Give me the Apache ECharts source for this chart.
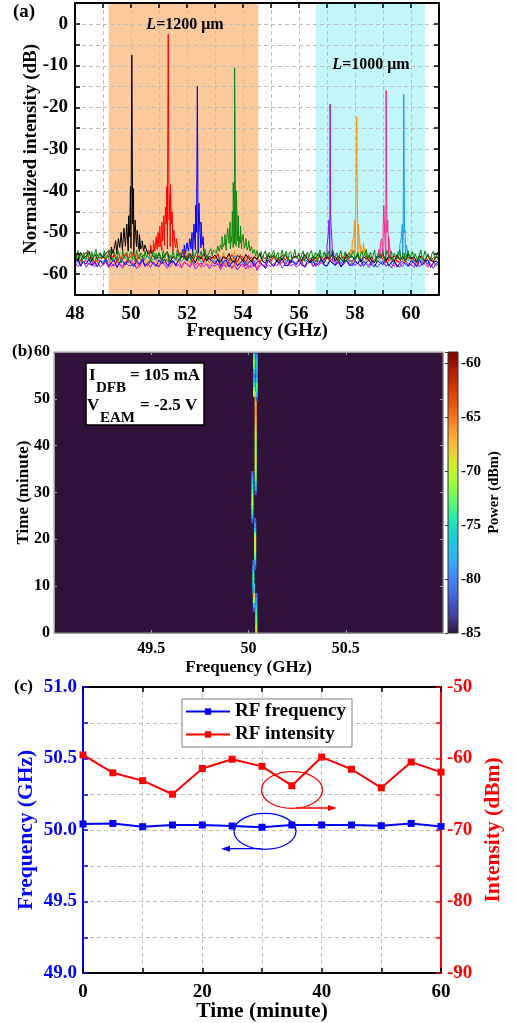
<!DOCTYPE html>
<html><head><meta charset="utf-8">
<script src="https://cdn.jsdelivr.net/npm/echarts@6/dist/echarts.min.js"></script>
<style>html,body{margin:0;padding:0;background:#fff}#c{width:516px;height:1023px}</style>
</head><body><div id="c"></div>
<script>
// ---------- Panel (a): optical spectra (noise floor: green every 0.05 GHz, others every 0.1 GHz, from 48 GHz) ----------
var specStart = 48;
var greenNoise = [
 -55.1,-56.7,-54.3,-56.0,-55.4,-57.2,-54.8,-55.9,-56.5,-54.2,-55.7,-57.0,-54.6,-56.3,-55.2,-54.0,-56.8,-55.5,-54.9,-56.4,
 -55.8,-54.4,-57.1,-55.3,-56.2,-54.1,-55.6,-56.9,-54.7,-55.0,-56.6,-54.5,-55.9,-57.3,-54.3,-56.1,-55.4,-54.8,-56.7,-55.2,
 -54.6,-56.4,-55.1,-57.0,-54.2,-55.8,-56.3,-54.9,-55.5,-56.8,-54.4,-56.0,-55.3,-54.7,-57.1,-55.6,-54.1,-56.5,-55.0,-56.2,
 -54.8,-55.7,-56.9,-54.3,-56.1,-55.2,-54.6,-57.2,-55.4,-56.0,-54.5,-55.9,-56.6,-54.2,-55.3,-56.8,-55.0,-54.4,-56.3,-55.7,
 -56.4,-54.9,-55.5,-57.0,-54.6,-56.2,-55.1,-54.3,-56.7,-55.8,-54.5,-56.0,-55.2,-54.0,-56.5,-55.4,-54.7,-53.9,-55.6,-54.2,
 -53.8,-55.0,-53.2,-54.6,-52.9,-54.1,-53.5,-52.4,-54.3,-53.0,-52.6,-53.9,-52.2,-53.6,-52.8,-53.3,-52.0,-53.7,-52.5,-54.0,
 -52.9,-53.8,-52.6,-54.2,-53.1,-54.5,-53.4,-55.0,-54.1,-55.6,-54.3,-56.0,-55.2,-54.6,-56.3,-55.0,-54.4,-56.1,-55.3,-54.7,
 -56.2,-55.0,-54.3,-56.6,-55.4,-54.8,-57.0,-55.6,-54.2,-56.0,-55.3,-54.5,-56.8,-55.1,-54.6,-56.4,-55.7,-54.1,-56.2,-55.5,
 -54.9,-56.5,-55.2,-54.4,-56.9,-55.6,-54.7,-56.1,-55.0,-54.3,-56.7,-55.4,-54.8,-57.1,-55.5,-54.2,-56.3,-55.8,-54.6,-56.0,
 -55.3,-54.5,-56.6,-55.1,-54.0,-56.2,-55.7,-54.9,-56.8,-55.2,-54.4,-56.4,-55.9,-54.6,-57.0,-55.4,-54.8,-56.1,-55.0,-54.3,
 -56.5,-55.6,-54.7,-56.9,-55.2,-54.5,-56.0,-55.8,-54.1,-56.6,-55.3,-54.8,-56.3,-55.5,-54.2,-57.1,-55.7,-54.9,-56.2,-55.1,
 -54.6,-56.7,-55.4,-54.3,-56.1,-55.9,-54.5,-56.8,-55.0,-54.7,-56.4,-55.2,-54.1,-56.6,-55.6,-54.9,-57.0,-55.3,-54.4,-56.2,
 -55.8,-54.6,-56.3,-55.1,-54.8,-56.9,-55.5,-54.2,-56.5,-55.7,-54.4,-56.0,-55.3,-54.9,-56.7,-55.0,-54.5,-56.4,-55.9,-54.7,
 -55.6];
var blackNoise = [
 -55.3,-56.9,-54.8,-56.2,-55.6,-54.5,-57.0,-55.1,-56.4,-54.9,
 -56.1,-55.0,-54.4,-56.6,-53.9,-55.2,-53.6,-54.8,-53.3,-54.5,
 -53.8,-54.9,-53.4,-54.6,-53.1,-54.7,-55.2,-54.3,-55.8,-56.3,
 -55.0,-56.7,-55.4,-54.6,-57.1,-55.8,-56.3,-54.9,-56.0,-55.5,
 -56.8,-55.2,-56.1,-57.3,-55.6,-56.4,-55.0,-56.9,-55.7,-56.2,
 -55.4,-56.6,-57.0,-55.9,-56.3,-55.1,-56.8,-57.2,-55.5,-56.0,
 -56.7,-55.3,-56.2,-57.1,-55.8,-56.5,-55.0,-56.9,-57.4,-55.6,
 -56.1,-55.4,-57.0,-55.9,-56.6,-55.2,-56.3,-57.2,-55.7,-56.0,
 -55.5,-56.8,-55.3,-56.4,-57.1,-55.8,-56.2,-55.0,-56.7,-57.3,
 -55.9,-56.3,-55.1,-56.9,-55.6,-56.5,-57.0,-55.4,-56.1,-55.7,
 -56.6,-55.2,-57.1,-55.8,-56.3,-55.5,-56.9,-57.2,-55.6,-56.0,
 -55.3,-56.7,-55.9,-56.2,-57.0,-55.4,-56.5,-55.8,-56.9,-55.1,
 -56.4,-55.7,-57.1,-55.5,-56.2,-56.8,-55.3,-56.6,-57.0,-55.9,
 -56.3];
var redNoise = [
 -56.0,-55.2,-56.8,-55.6,-54.7,-56.4,-55.9,-57.1,-55.3,-56.2,
 -55.5,-56.7,-54.9,-56.1,-55.4,-57.0,-55.8,-56.5,-55.1,-56.3,
 -55.7,-54.8,-56.6,-55.3,-56.0,-54.9,-54.2,-55.1,-53.8,-54.6,
 -53.5,-54.3,-53.1,-54.0,-53.4,-54.5,-53.7,-54.8,-55.2,-54.4,
 -56.1,-55.0,-56.9,-55.5,-56.3,-55.8,-57.0,-55.4,-56.6,-55.9,
 -56.4,-55.1,-57.2,-55.7,-56.2,-56.8,-55.3,-56.5,-57.0,-55.6,
 -56.0,-57.1,-55.5,-56.7,-55.9,-56.3,-57.3,-55.8,-56.4,-55.2,
 -56.9,-55.6,-56.1,-57.0,-55.4,-56.6,-55.9,-57.2,-56.0,-55.7,
 -56.5,-57.0,-55.3,-56.2,-56.8,-55.5,-57.1,-56.0,-55.8,-56.6,
 -55.4,-56.9,-56.2,-55.7,-57.3,-55.9,-56.4,-55.1,-56.7,-57.0,
 -56.1,-55.6,-57.1,-56.3,-55.5,-56.8,-55.9,-57.2,-56.0,-55.4,
 -56.7,-57.3,-55.8,-56.2,-55.6,-56.9,-57.1,-55.5,-56.4,-56.0,
 -55.9,-56.6,-57.2,-55.7,-56.3,-57.0,-55.4,-56.8,-56.1,-55.6,
 -56.2];
var blueNoise = [
 -57.3,-56.2,-58.1,-56.9,-57.6,-56.4,-57.9,-57.0,-58.3,-56.7,
 -57.5,-56.3,-58.0,-57.2,-56.6,-58.4,-57.1,-56.8,-57.8,-56.5,
 -57.4,-58.2,-56.7,-57.7,-56.3,-58.0,-57.3,-56.9,-57.6,-58.1,
 -56.6,-57.5,-56.4,-58.0,-57.2,-56.8,-57.9,-56.5,-55.8,-56.4,
 -55.3,-54.8,-55.6,-54.2,-55.0,-53.7,-54.5,-55.4,-56.2,-57.0,
 -57.6,-56.4,-58.1,-57.0,-56.6,-58.3,-57.2,-56.8,-57.9,-57.4,
 -56.7,-58.0,-57.3,-56.5,-58.2,-57.1,-56.9,-57.8,-58.4,-56.6,
 -57.5,-58.1,-56.8,-57.4,-56.3,-57.9,-58.0,-56.7,-57.2,-57.7,
 -56.5,-57.8,-58.2,-56.9,-57.3,-56.6,-58.0,-57.5,-56.4,-57.9,
 -58.1,-56.8,-57.4,-57.9,-56.5,-58.3,-57.0,-56.7,-57.6,-58.0,
 -56.9,-57.5,-56.3,-58.1,-57.2,-56.6,-57.8,-58.2,-56.8,-57.3,
 -57.7,-56.4,-58.0,-57.1,-56.7,-58.3,-57.4,-56.9,-57.6,-58.1,
 -56.8,-57.3,-58.2,-56.5,-57.9,-57.0,-56.6,-58.4,-57.2,-56.9,
 -57.4];
var purpleNoise = [
 -57.1,-58.2,-57.6,-56.9,-58.4,-57.3,-58.0,-57.5,-56.8,-58.3,
 -57.7,-57.0,-58.5,-57.4,-58.1,-56.9,-57.8,-58.6,-57.2,-57.9,
 -58.0,-57.3,-58.7,-57.6,-56.8,-58.2,-57.5,-58.4,-57.0,-57.9,
 -58.3,-57.1,-57.8,-58.6,-57.4,-56.9,-58.1,-57.7,-58.5,-57.2,
 -57.6,-58.4,-57.0,-58.8,-57.9,-57.3,-58.2,-57.5,-58.7,-57.8,
 -58.1,-57.4,-58.9,-57.7,-58.3,-57.0,-58.6,-57.9,-59.0,-58.0,
 -57.5,-58.8,-57.9,-58.4,-57.2,-59.1,-58.0,-57.6,-58.7,-57.8,
 -58.2,-57.4,-58.0,-57.1,-58.5,-57.7,-56.9,-58.1,-57.5,-58.3,
 -57.8,-57.0,-58.4,-57.6,-56.9,-58.2,-57.3,-57.9,-57.1,-56.7,
 -56.4,-56.9,-57.5,-57.9,-57.2,-58.1,-57.6,-56.8,-58.0,-57.4,
 -57.9,-57.3,-58.2,-56.9,-57.7,-58.4,-57.1,-57.8,-58.3,-57.5,
 -57.0,-58.1,-57.6,-58.5,-57.2,-57.9,-58.3,-57.4,-56.9,-58.0,
 -57.7,-58.4,-57.1,-58.2,-57.6,-56.9,-58.0,-57.5,-58.6,-57.3,
 -57.9];
var orangeNoise = [
 -56.9,-55.8,-57.3,-56.2,-55.6,-57.0,-56.5,-55.9,-57.4,-56.1,
 -55.7,-56.8,-57.2,-56.0,-55.5,-56.9,-57.1,-55.8,-56.4,-57.0,
 -56.3,-55.6,-57.3,-56.7,-55.9,-56.2,-57.5,-56.0,-55.7,-56.8,
 -57.0,-56.1,-55.5,-56.9,-57.2,-55.8,-56.4,-57.1,-56.0,-55.6,
 -56.7,-57.3,-55.9,-56.5,-57.0,-55.7,-56.8,-56.2,-57.4,-55.8,
 -56.0,-55.4,-57.8,-54.7,-58.1,-54.9,-57.6,-54.5,-58.3,-55.2,
 -57.2,-55.8,-56.9,-57.3,-56.1,-55.5,-57.0,-56.6,-55.9,-56.8,
 -57.1,-56.0,-55.6,-56.9,-57.4,-55.8,-56.3,-57.0,-56.2,-55.7,
 -56.8,-57.3,-56.1,-55.5,-57.0,-56.4,-55.9,-56.7,-57.2,-56.0,
 -55.6,-56.9,-57.1,-55.8,-56.3,-55.4,-56.6,-55.2,-55.9,-55.5,
 -55.1,-55.9,-56.2,-55.3,-56.7,-57.0,-55.8,-56.4,-57.3,-56.1,
 -55.6,-56.8,-57.2,-55.9,-56.5,-57.1,-55.7,-56.3,-57.4,-56.0,
 -56.9,-55.8,-57.3,-56.2,-55.6,-57.0,-56.4,-55.9,-57.5,-56.6,
 -56.3];
var pinkNoise = [
 -57.4,-56.5,-58.1,-57.0,-56.7,-57.8,-56.9,-58.3,-57.2,-56.6,
 -57.9,-57.1,-56.4,-58.2,-57.5,-56.8,-57.7,-58.0,-56.9,-57.3,
 -56.6,-57.9,-57.2,-58.4,-56.8,-57.5,-58.1,-56.7,-57.3,-57.8,
 -58.0,-56.9,-57.4,-56.5,-58.3,-57.1,-57.7,-56.8,-58.2,-57.0,
 -57.5,-58.1,-56.7,-57.9,-57.2,-58.4,-56.9,-57.6,-58.0,-57.3,
 -56.8,-57.7,-58.5,-57.1,-58.2,-56.9,-58.7,-57.4,-58.0,-57.6,
 -58.3,-57.0,-58.6,-57.5,-56.9,-58.8,-57.3,-58.1,-57.7,-56.8,
 -57.5,-58.2,-56.6,-57.9,-57.1,-56.4,-58.0,-57.4,-56.9,-57.8,
 -56.7,-57.6,-58.3,-57.0,-56.5,-57.9,-58.1,-56.8,-57.3,-57.7,
 -58.0,-56.6,-57.2,-57.8,-56.9,-58.2,-57.4,-56.7,-57.9,-57.1,
 -56.5,-57.5,-58.0,-56.8,-57.3,-57.9,-56.6,-57.1,-56.2,-55.9,
 -56.3,-57.2,-56.8,-57.6,-58.1,-56.9,-57.4,-58.3,-56.7,-57.5,
 -57.9,-56.4,-58.2,-57.1,-56.8,-57.7,-58.4,-56.6,-57.3,-58.0,
 -57.2];
var skyNoise = [
 -56.3,-57.4,-56.9,-55.8,-57.1,-56.5,-55.9,-57.3,-56.2,-56.8,
 -57.0,-56.1,-55.7,-57.2,-56.6,-56.0,-57.5,-56.4,-55.8,-56.9,
 -57.3,-56.2,-56.7,-55.9,-57.1,-56.5,-55.6,-57.0,-56.3,-56.8,
 -55.9,-57.2,-56.4,-56.9,-55.7,-57.4,-56.1,-56.6,-57.0,-56.2,
 -56.8,-55.8,-57.3,-56.5,-56.0,-57.1,-56.7,-55.6,-57.2,-56.4,
 -57.0,-56.3,-55.9,-57.5,-56.6,-56.1,-57.3,-55.7,-56.9,-57.4,
 -56.2,-57.6,-56.8,-55.8,-57.2,-56.4,-55.5,-57.0,-56.7,-56.1,
 -57.3,-55.9,-56.5,-57.1,-56.0,-57.5,-56.3,-55.6,-56.9,-57.2,
 -56.4,-55.7,-57.0,-56.6,-56.1,-57.4,-55.8,-56.8,-57.3,-56.0,
 -55.6,-56.9,-57.2,-56.3,-55.8,-57.5,-56.5,-56.0,-57.1,-56.7,
 -56.1,-55.5,-56.8,-57.3,-56.4,-55.9,-57.0,-56.6,-55.7,-56.9,
 -57.2,-56.3,-55.8,-56.7,-57.4,-56.0,-55.6,-56.5,-55.9,-56.8,
 -56.2,-57.1,-56.6,-55.8,-57.3,-56.4,-57.6,-55.9,-56.7,-58.0,
 -56.5];

// peak structures: [frequency GHz, dB]
var blackPeak = [[49.3,-53.5],[49.35,-55],[49.45,-52],[49.5,-54.5],[49.55,-51.5],[49.6,-54],[49.65,-50],[49.7,-53.5],[49.75,-49],[49.8,-53],[49.85,-48],[49.88,-52],[49.92,-46],[49.95,-51],[49.98,-39],[50.0,-48],[50.03,-7.5],[50.06,-48],[50.09,-39.5],[50.12,-50],[50.15,-47],[50.18,-52],[50.22,-49.5],[50.26,-53],[50.3,-50.5],[50.35,-54],[50.4,-52],[50.45,-54.5],[50.5,-53]];
var redPeak = [[50.7,-53],[50.75,-55],[50.8,-52],[50.85,-54.5],[50.9,-51],[50.93,-54],[50.97,-50],[51.0,-53.5],[51.03,-48.5],[51.06,-53],[51.1,-47.5],[51.13,-52],[51.17,-46],[51.2,-50],[51.23,-44],[51.26,-48],[51.28,-39],[51.3,-47],[51.33,-2.5],[51.36,-47],[51.39,-41],[51.41,-38.5],[51.44,-48],[51.47,-45],[51.5,-51],[51.53,-49.5],[51.57,-53],[51.62,-51.5],[51.67,-54]];
var bluePeak = [[51.85,-54],[51.9,-53],[51.95,-55],[52.0,-52.5],[52.05,-54.5],[52.1,-51.5],[52.14,-54],[52.18,-50],[52.22,-53],[52.25,-48],[52.28,-52],[52.31,-43.5],[52.34,-50],[52.37,-15],[52.4,-49],[52.43,-43],[52.46,-50],[52.5,-47.5],[52.54,-53],[52.58,-51],[52.63,-55]];
var greenPeak = [[53.2,-52.5],[53.25,-51],[53.3,-53.5],[53.35,-50.5],[53.4,-53],[53.45,-49],[53.5,-52],[53.54,-47.5],[53.58,-51],[53.62,-45],[53.65,-38],[53.68,-47],[53.7,-10.5],[53.73,-47],[53.76,-40],[53.79,-48],[53.83,-46],[53.87,-51],[53.91,-48.5],[53.95,-52.5],[54.0,-50.5],[54.05,-53.5],[54.1,-51.5],[54.15,-54],[54.2,-52],[54.3,-53.5]];
var purplePeak = [[56.95,-55],[57.0,-53],[57.04,-51],[57.07,-47],[57.09,-50],[57.11,-19.3],[57.13,-45.5],[57.15,-49],[57.18,-52.5],[57.22,-54.5]];
var orangePeak = [[57.85,-54],[57.9,-52.5],[57.95,-51],[57.99,-47],[58.02,-48.5],[58.06,-22.3],[58.09,-46],[58.12,-48],[58.16,-51.5],[58.2,-53],[58.3,-52.5],[58.4,-54]];
var pinkPeak = [[58.85,-54],[58.9,-53],[58.95,-51.5],[59.0,-50],[59.03,-43.5],[59.06,-50],[59.11,-16],[59.14,-50],[59.17,-47],[59.2,-51],[59.24,-53.5]];
var skyPeak = [[59.55,-54.5],[59.6,-53],[59.65,-51.5],[59.69,-48],[59.72,-51],[59.74,-16.9],[59.77,-50],[59.79,-49.5],[59.83,-53],[59.88,-54.5]];
// shaded device-length bands [start GHz, end GHz]
var band1200 = [49.2, 54.55];
var band1000 = [56.6, 60.5];
// grid line positions of panel (a)
var specGridX = [49,50,51,52,53,54,55,56,57,58,59,60];
var specGridY = [-60,-55,-50,-45,-40,-35,-30,-25,-20,-15,-10,-5,0];

// ---------- Panel (b): spectrogram trace [frequency GHz, time min, power dBm] ----------
var traceFreq = [
 50.040,50.040,50.040,50.040,50.040,50.040,50.040,50.040,50.040,
 50.028,50.028,50.028,50.028,50.028,50.028,
 50.025,50.025,50.025,50.025,50.025,50.025,50.025,
 50.034,50.034,50.034,50.034,50.034,50.034,50.034,50.034,50.034,50.034,50.034,
 50.020,50.020,50.020,50.020,50.020,50.020,50.020,50.020,50.020,50.020,50.020,
 50.037,50.037,50.037,50.037,50.037,50.037,50.037,50.037,50.037,50.037,50.037,50.037,50.037,50.037,50.037,50.037,50.037,50.037,50.037,50.037,50.037,50.037,
 50.042,50.042,50.042,50.042,50.042,50.042,50.042,50.042,50.042,50.042,50.042,
 50.029,50.029,50.029,50.029,50.029,50.029,50.029,50.029,50.029,50.029];
var traceTime = [
 0,1,2,3,4,5,6,7,8,
 5,6,7,8,9,10,
 9,10,11,12,13,14,15,
 14,15,16,17,18,19,20,21,22,23,24,
 24,25,26,27,28,29,30,31,32,33,34,
 30,31,32,33,34,35,36,37,38,39,40,41,42,43,44,45,46,47,48,49,50,51,
 50,51,52,53,54,55,56,57,58,59,60,
 51,52,53,54,55,56,57,58,59,60];
var tracePower = [
 -68,-70,-72,-73,-74,-75,-77,-79,-81,
 -82,-78,-72,-68,-72,-76,
 -80,-77,-75,-74,-76,-79,-82,
 -82,-79,-74,-72,-71,-70,-69,-72,-76,-79,-82,
 -82,-77,-74,-72,-71,-72,-73,-75,-77,-79,-81,
 -82,-78,-75,-73,-72,-71,-71,-70,-70,-71,-72,-71,-70,-69,-68,-67,-67,-66,-66,-67,-68,-70,
 -82,-77,-74,-73,-76,-79,-78,-76,-77,-79,-82,
 -70,-72,-75,-78,-80,-76,-73,-72,-74,-76];
var powerMin = -85, powerMax = -59;
var TURBO = ['#30123b','#4040a0','#4662d8','#4686fb','#2fb0f2','#1ac9dc','#22e5b3','#5efc70','#a4fc3c','#d2e935','#f7c13a','#fe9129','#f05b12','#d63806','#b01a01','#7a0403'];

// ---------- Panel (c): stability over one hour ----------
var timeMin = [0,5,10,15,20,25,30,35,40,45,50,55,60];
var rfFreq = [50.042,50.046,50.023,50.035,50.035,50.028,50.019,50.035,50.035,50.035,50.030,50.046,50.025];
var rfInt = [-59.5,-62.0,-63.1,-65.0,-61.4,-60.1,-61.1,-63.8,-59.8,-61.5,-64.1,-60.5,-61.9];

// ---------- build ----------
var FONT = "'Liberation Serif','Times New Roman',serif";
function buildTrace(noise, step, peaks) {
  var pts = [];
  for (var i = 0; i < noise.length; i++) pts.push([Math.round((specStart + i * step) * 1000) / 1000, noise[i]]);
  pts = pts.concat(peaks);
  pts.sort(function (a, b) { return a[0] - b[0]; });
  return pts;
}
var traces = [
  {c:'#8a12ff', d: buildTrace(purpleNoise, 0.1, purplePeak)},
  {c:'#ff1f8a', d: buildTrace(pinkNoise, 0.1, pinkPeak)},
  {c:'#1a96e6', d: buildTrace(skyNoise, 0.1, skyPeak)},
  {c:'#ff9010', d: buildTrace(orangeNoise, 0.1, orangePeak)},
  {c:'#0000ff', d: buildTrace(blueNoise, 0.1, bluePeak)},
  {c:'#ff0000', d: buildTrace(redNoise, 0.1, redPeak)},
  {c:'#000000', d: buildTrace(blackNoise, 0.1, blackPeak)},
  {c:'#0a870a', d: buildTrace(greenNoise, 0.05, greenPeak)}
];
var heatData = traceFreq.map(function (f, i) { return [f, traceTime[i], tracePower[i]]; });

var chart = echarts.init(document.getElementById('c'), null, {renderer: 'canvas'});
function lbl(size, color, extra) {
  var o = {fontSize: size, fontWeight: 'bold', fontFamily: FONT, color: color || '#000'};
  if (extra) for (var k in extra) o[k] = extra[k];
  return o;
}
var black2 = {show: true, onZero: false, lineStyle: {color: '#000', width: 2}};
var dash = {show: true, lineStyle: {color: '#bdbdbd', type: [4, 3], width: 1}};
var tickIn = {show: true, inside: true, length: 5, lineStyle: {color: '#000', width: 1.5}};
var gridStroke = {stroke: '#bdbdbd', lineWidth: 1, lineDash: [4, 3], fill: null};

var series = [];
// background bands only (no data points), drawn lowest
series.push({type: 'line', xAxisIndex: 0, yAxisIndex: 0, data: [], silent: true, animation: false, z: 1,
  markArea: {silent: true, label: {show: false}, data: [
    [{xAxis: band1200[0], itemStyle: {color: '#fbc99c'}}, {xAxis: band1200[1]}],
    [{xAxis: band1000[0], itemStyle: {color: '#c3f6f9'}}, {xAxis: band1000[1]}]
  ]}});
// dashed grid of panel (a): vertical lines at specGridX, horizontal lines at specGridY
series.push({type: 'custom', xAxisIndex: 0, yAxisIndex: 0, z: 4, silent: true, animation: false, clip: true,
  data: specGridX.map(function (v) { return [v]; }), dimensions: ['x'], encode: {x: 0},
  renderItem: function (params, api) {
    var cs = params.coordSys;
    var x = Math.round(api.coord([api.value(0), -30])[0]) + 0.5;
    return {type: 'line', shape: {x1: x, y1: cs.y, x2: x, y2: cs.y + cs.height}, style: gridStroke};
  }});
series.push({type: 'custom', xAxisIndex: 0, yAxisIndex: 0, z: 4, silent: true, animation: false, clip: true,
  data: specGridY.map(function (v) { return [v]; }), dimensions: ['y'], encode: {y: 0},
  renderItem: function (params, api) {
    var cs = params.coordSys;
    var y = Math.round(api.coord([54, api.value(0)])[1]) + 0.5;
    return {type: 'line', shape: {x1: cs.x, y1: y, x2: cs.x + cs.width, y2: y}, style: gridStroke};
  }});
traces.forEach(function (t) {
  series.push({type: 'line', xAxisIndex: 0, yAxisIndex: 0, data: t.d, showSymbol: false, symbol: 'none',
    lineStyle: {color: t.c, width: 1}, itemStyle: {color: t.c}, silent: true, animation: false, z: 5});
});
var heatIndex = series.length;
series.push({
  type: 'custom', xAxisIndex: 2, yAxisIndex: 2, data: heatData, clip: true, silent: true, animation: false,
  encode: {x: 0, y: 1},
  renderItem: function (params, api) {
    var c = api.coord([api.value(0), api.value(1)]);
    var h = api.size([0, 1])[1];
    return {type: 'rect', shape: {x: c[0] - 1.1, y: c[1] - h / 2 - 0.3, width: 2.2, height: h + 0.6},
      style: {fill: api.visual('color')}};
  }
});
series.push({type: 'line', name: 'RF frequency', xAxisIndex: 5, yAxisIndex: 5,
  data: timeMin.map(function (t, i) { return [t, rfFreq[i]]; }),
  symbol: 'rect', symbolSize: 7, lineStyle: {color: '#0000ff', width: 2}, itemStyle: {color: '#0000ff'}, animation: false, z: 4});
series.push({type: 'line', name: 'RF intensity', xAxisIndex: 5, yAxisIndex: 6,
  data: timeMin.map(function (t, i) { return [t, rfInt[i]]; }),
  symbol: 'rect', symbolSize: 7, lineStyle: {color: '#ff0000', width: 2}, itemStyle: {color: '#ff0000'}, animation: false, z: 4});

var cbStops = TURBO.map(function (c, i) { return {offset: i / (TURBO.length - 1), color: c}; });

var option = {
  animation: false,
  grid: [
    {left: 75, top: 3, width: 364, height: 292},
    {left: 54, top: 352, width: 389, height: 281, show: true, backgroundColor: '#30123b', borderColor: '#9a9a9a', borderWidth: 1},
    {left: 448, top: 352, width: 10, height: 281, show: true, borderColor: '#333', borderWidth: 1,
      backgroundColor: new echarts.graphic.LinearGradient(0, 1, 0, 0, cbStops)},
    {left: 83, top: 687, width: 358, height: 288}
  ],
  xAxis: [
    {gridIndex: 0, type: 'value', min: 48, max: 61, interval: 1, position: 'bottom', z: 6, axisLine: black2, axisTick: tickIn,
      axisLabel: lbl(19, '#000', {margin: 10, formatter: function (v) { return v % 2 === 0 ? String(v) : ''; }}),
      splitLine: {show: false}, name: 'Frequency (GHz)', nameLocation: 'middle', nameGap: 27, nameMoveOverlap: false, nameTextStyle: lbl(19)},
    {gridIndex: 0, type: 'value', min: 48, max: 61, interval: 1, position: 'top', z: 6, axisLine: black2, axisTick: tickIn,
      axisLabel: {show: false}, splitLine: {show: false}},
    {gridIndex: 1, type: 'value', min: 49, max: 51, interval: 0.5, position: 'bottom', z: 3,
      axisLine: {show: true, onZero: false, lineStyle: {color: '#9a9a9a', width: 1}},
      axisTick: {show: true, inside: true, length: 3, lineStyle: {color: '#9a9a9a'}},
      axisLabel: lbl(16, '#000', {margin: 8, formatter: function (v) { return (v === 49 || v === 51) ? '' : String(v); }}),
      splitLine: {show: false}, name: 'Frequency (GHz)', nameLocation: 'middle', nameGap: 26, nameMoveOverlap: false, nameTextStyle: lbl(17)},
    {gridIndex: 1, type: 'value', min: 49, max: 51, interval: 0.5, position: 'top', z: 3,
      axisLine: {show: true, onZero: false, lineStyle: {color: '#9a9a9a', width: 1}},
      axisTick: {show: true, inside: true, length: 3, lineStyle: {color: '#9a9a9a'}},
      axisLabel: {show: false}, splitLine: {show: false}},
    {gridIndex: 2, type: 'value', min: 0, max: 1, show: false},
    {gridIndex: 3, type: 'value', min: 0, max: 60, interval: 10, position: 'bottom', z: 3, axisLine: black2, axisTick: tickIn,
      axisLabel: lbl(19, '#000', {margin: 10, formatter: function (v) { return v % 20 === 0 ? String(v) : ''; }}),
      splitLine: dash, name: 'Time (minute)', nameLocation: 'middle', nameGap: 27, nameMoveOverlap: false, nameTextStyle: lbl(21.5)},
    {gridIndex: 3, type: 'value', min: 0, max: 60, interval: 10, position: 'top', z: 3, axisLine: black2, axisTick: tickIn,
      axisLabel: {show: false}, splitLine: {show: false}}
  ],
  yAxis: [
    {gridIndex: 0, type: 'value', min: -65, max: 5, interval: 5, position: 'left', z: 6, axisLine: black2, axisTick: tickIn,
      axisLabel: lbl(19, '#000', {margin: 7, formatter: function (v) { return v % 10 === 0 ? String(v) : ''; }}),
      splitLine: {show: false}, name: 'Normalized intensity (dB)', nameLocation: 'middle', nameGap: 34, nameMoveOverlap: false, nameTextStyle: lbl(19)},
    {gridIndex: 0, type: 'value', min: -65, max: 5, interval: 5, position: 'right', z: 6, axisLine: black2, axisTick: tickIn,
      axisLabel: {show: false}, splitLine: {show: false}},
    {gridIndex: 1, type: 'value', min: 0, max: 60, interval: 10, position: 'left', z: 3,
      axisLine: {show: true, onZero: false, lineStyle: {color: '#9a9a9a', width: 1}},
      axisTick: {show: true, inside: true, length: 3, lineStyle: {color: '#9a9a9a'}},
      axisLabel: lbl(16, '#000', {margin: 4}),
      splitLine: {show: false}, name: 'Time (minute)', nameLocation: 'middle', nameGap: 22, nameMoveOverlap: false, nameTextStyle: lbl(17)},
    {gridIndex: 1, type: 'value', min: 0, max: 60, interval: 10, position: 'right', z: 3,
      axisLine: {show: true, onZero: false, lineStyle: {color: '#9a9a9a', width: 1}},
      axisTick: {show: true, inside: true, length: 3, lineStyle: {color: '#9a9a9a'}},
      axisLabel: {show: false}, splitLine: {show: false}},
    {gridIndex: 2, type: 'value', min: powerMin, max: powerMax, interval: 5, position: 'right', z: 3,
      axisLine: {show: false}, axisTick: {show: true, inside: true, length: 3, lineStyle: {color: '#333'}},
      axisLabel: lbl(15, '#000', {margin: 3, formatter: function (v) { return v % 5 === 0 ? String(v) : ''; }}),
      splitLine: {show: false}, name: 'Power (dBm)', nameLocation: 'middle', nameRotate: 90, nameGap: 29, nameMoveOverlap: false, nameTextStyle: lbl(14.5)},
    {gridIndex: 3, type: 'value', min: 49, max: 51, interval: 0.25, position: 'left', z: 3,
      axisLine: {show: true, onZero: false, lineStyle: {color: '#0000ff', width: 2}},
      axisTick: {show: true, inside: true, length: 5, lineStyle: {color: '#0000ff', width: 1.5}},
      axisLabel: lbl(19, '#0000ff', {margin: 6, formatter: function (v) { return Math.abs(v * 2 - Math.round(v * 2)) < 1e-6 ? v.toFixed(1) : ''; }}),
      splitLine: dash, name: 'Frequency (GHz)', nameLocation: 'middle', nameGap: 46, nameMoveOverlap: false, nameTextStyle: lbl(21.5, '#0000ff')},
    {gridIndex: 3, type: 'value', min: -90, max: -50, interval: 5, position: 'right', z: 3,
      axisLine: {show: true, onZero: false, lineStyle: {color: '#ff0000', width: 2}},
      axisTick: {show: true, inside: true, length: 5, lineStyle: {color: '#ff0000', width: 1.5}},
      axisLabel: lbl(19, '#ff0000', {margin: 6, formatter: function (v) { return v % 10 === 0 ? String(v) : ''; }}),
      splitLine: {show: false}, name: 'Intensity (dBm)', nameLocation: 'middle', nameRotate: 90, nameGap: 41, nameMoveOverlap: false, nameTextStyle: lbl(21.5, '#ff0000')}
  ],
  visualMap: [{show: false, type: 'continuous', seriesIndex: heatIndex, dimension: 2, min: powerMin, max: powerMax, inRange: {color: TURBO}}],
  legend: {data: ['RF frequency', 'RF intensity'], left: 182, top: 699, orient: 'vertical', itemWidth: 44, itemHeight: 8, itemGap: 4,
    padding: [3, 6, 3, 3], borderColor: '#808080', borderWidth: 1, backgroundColor: '#fff', selectedMode: false,
    textStyle: lbl(19, '#000', {lineHeight: 19})},
  series: series,
  graphic: [
    {type: 'text', left: 13, top: 3, style: {text: '(a)', font: 'bold 19px ' + FONT, fill: '#000'}},
    {type: 'text', left: 12, top: 343, style: {text: '(b)', font: 'bold 17px ' + FONT, fill: '#000'}},
    {type: 'text', left: 14, top: 678, style: {text: '(c)', font: 'bold 17px ' + FONT, fill: '#000'}},
    {type: 'text', x: 185, y: 25, z: 10, style: {text: '{i|L}{n|=1200 μm}', align: 'center', verticalAlign: 'middle',
      rich: {i: {font: 'italic bold 16px ' + FONT, fill: '#000'}, n: {font: 'bold 16px ' + FONT, fill: '#000'}}}},
    {type: 'text', x: 371, y: 65, z: 10, style: {text: '{i|L}{n|=1000 μm}', align: 'center', verticalAlign: 'middle',
      rich: {i: {font: 'italic bold 16px ' + FONT, fill: '#000'}, n: {font: 'bold 16px ' + FONT, fill: '#000'}}}},
    {type: 'rect', z: 10, shape: {x: 86, y: 363, width: 118, height: 62}, style: {fill: '#fff', stroke: '#000', lineWidth: 1.5}},
    {type: 'text', z: 11, x: 89, y: 376, style: {text: 'I', font: 'bold 17px ' + FONT, fill: '#000', verticalAlign: 'middle'}},
    {type: 'text', z: 11, x: 96, y: 388, style: {text: 'DFB', font: 'bold 15px ' + FONT, fill: '#000', verticalAlign: 'middle'}},
    {type: 'text', z: 11, x: 130, y: 376, style: {text: '= 105 mA', font: 'bold 17px ' + FONT, fill: '#000', verticalAlign: 'middle'}},
    {type: 'text', z: 11, x: 87, y: 405.5, style: {text: 'V', font: 'bold 17px ' + FONT, fill: '#000', verticalAlign: 'middle'}},
    {type: 'text', z: 11, x: 100, y: 418.5, style: {text: 'EAM', font: 'bold 15px ' + FONT, fill: '#000', verticalAlign: 'middle'}},
    {type: 'text', z: 11, x: 140, y: 405.5, style: {text: '= -2.5 V', font: 'bold 17px ' + FONT, fill: '#000', verticalAlign: 'middle'}},
    {type: 'ellipse', z: 10, shape: {cx: 292, cy: 790, rx: 30.5, ry: 18.3}, style: {fill: 'none', stroke: '#ff0000', lineWidth: 1.3}},
    {type: 'line', z: 10, shape: {x1: 296, y1: 808, x2: 331, y2: 808}, style: {stroke: '#ff0000', lineWidth: 1.3}},
    {type: 'polygon', z: 10, shape: {points: [[337, 808], [328, 805], [328, 811]]}, style: {fill: '#ff0000'}},
    {type: 'ellipse', z: 10, shape: {cx: 265, cy: 831.3, rx: 31, ry: 18}, style: {fill: 'none', stroke: '#0000ff', lineWidth: 1.3}},
    {type: 'line', z: 10, shape: {x1: 261, y1: 848.7, x2: 227, y2: 848.7}, style: {stroke: '#0000ff', lineWidth: 1.3}},
    {type: 'polygon', z: 10, shape: {points: [[221, 848.7], [230, 845.7], [230, 851.7]]}, style: {fill: '#0000ff'}}
  ]
};
chart.setOption(option);
</script></body></html>
